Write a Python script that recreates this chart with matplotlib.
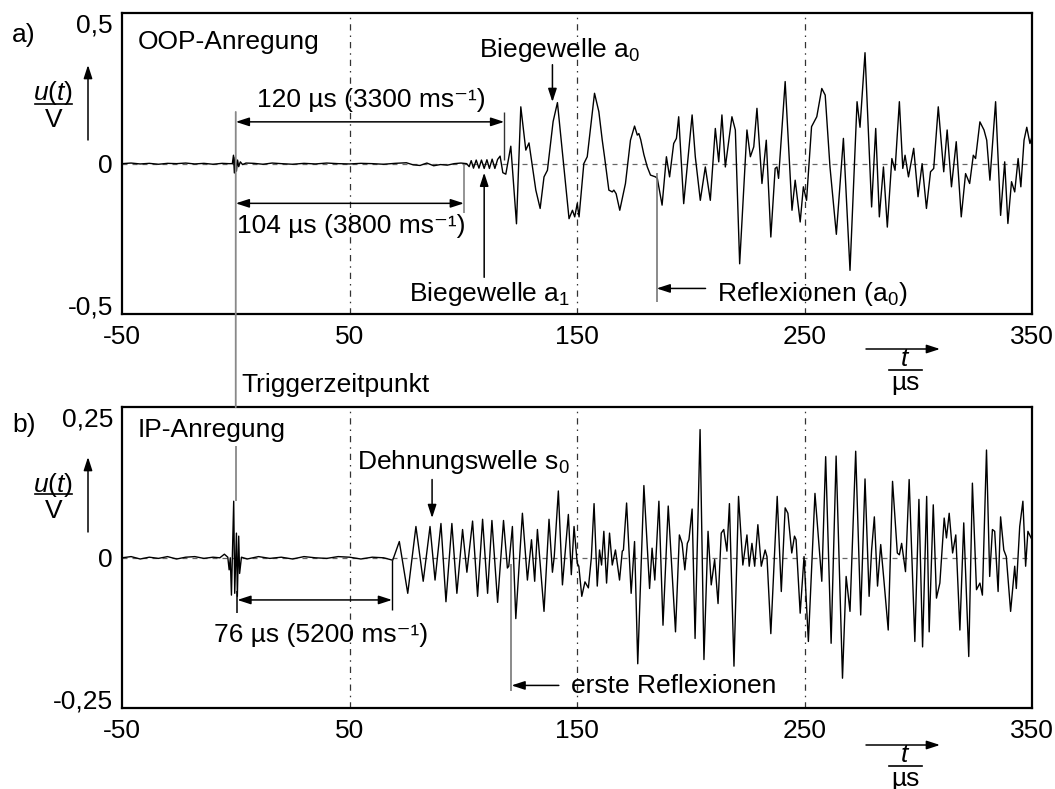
import matplotlib
matplotlib.use("Agg")
import matplotlib.pyplot as plt
from matplotlib.patches import FancyArrowPatch, ConnectionPatch
from matplotlib.lines import Line2D

plt.rcParams["font.family"] = ["Liberation Sans", "DejaVu Sans"]
plt.rcParams["mathtext.fontset"] = "custom"
plt.rcParams["mathtext.rm"] = "Liberation Sans"
plt.rcParams["mathtext.it"] = "Liberation Sans:italic"
plt.rcParams["font.size"] = 19

# ---------------- data ----------------
xticks = [-50, 50, 150, 250, 350]
xtick_labels = ["-50", "50", "150", "250", "350"]
grid_t = [50, 150, 250]

yticks_a = [-0.5, 0.0, 0.5]
ytick_labels_a = ["-0,5", "0", "0,5"]
yticks_b = [-0.25, 0.0, 0.25]
ytick_labels_b = ["-0,25", "0", "0,25"]

# a) OOP excitation: sensor voltage u(t) in V over t in microseconds
t_oop = [-50, -46, -42, -38, -34, -30, -26, -22, -18, -14, -10, -6, -3,
         -1.5, -1.0, -0.6, -0.2, 0.3, 0.8, 1.3, 2.0, 3.0, 4.5,
         8, 12, 16, 20, 25, 30, 35, 40, 45, 50, 55, 60, 65, 70, 75, 78, 81, 84,
         87, 90, 93, 96, 99, 101.5,
         102.6, 103.5, 104.5, 105.7, 106.9, 108.0, 109.2, 110.4, 111.5, 112.7,
         113.9, 115.1, 116.2, 117.4,
         118.7, 120.9, 123.4, 125.3, 127.5, 128.9, 131.9, 133.8, 135.5, 137.0,
         139.5, 141.4, 146.5, 148.0, 149.0, 150.1, 150.9, 153.0, 154.5, 157.7,
         159.6, 161.1, 162.1, 164.0, 165.5, 166.2, 167.2, 168.8, 171.3, 173.5,
         175.3, 176.5, 177.2, 178.0, 179.4, 180.9, 182.3, 184.5, 185.3, 187.4,
         189.3, 190.7, 192.5, 193.7, 194.7, 196.9, 200.6, 202.0, 204.2, 206.4,
         208.6, 210.8, 212.3, 213.7, 215.2, 218.1, 219.6, 221.5, 224.7, 226.2,
         227.7, 229.1, 231.3, 233.2, 235.2, 237.1, 237.9, 238.6, 241.5, 244.5,
         245.9, 248.1, 249.5, 250.9, 253.1, 255.4, 257.6, 259.1, 261.2, 264.0,
         267.1, 270.0, 273.1, 274.4, 276.6, 279.5, 281.3, 282.9, 284.7, 286.4,
         288.4, 289.8, 291.7, 293.2, 294.2, 295.7, 298.0, 299.9, 301.7, 303.6,
         305.4, 306.8, 308.8, 311.2, 312.7, 314.6, 316.7, 318.9, 320.8, 322.6,
         324.2, 325.2, 327.1, 328.9, 330.1, 331.5, 334.0, 336.2, 338.0, 339.4,
         341.0, 342.4, 343.9, 345.1, 346.5, 347.7, 349.1, 350.0]
u_oop = [0.0, 0.002, -0.001, 0.001, -0.002, 0.001, 0.0, 0.002, -0.001, 0.001, -0.002, 0.001, 0.0,
         0.0, 0.028, -0.031, 0.022, -0.025, 0.012, -0.01, 0.006, -0.003, 0.002,
         0.001, -0.002, 0.002, 0.0, -0.002, 0.001, -0.001, 0.002, 0.0, -0.001, 0.001, 0.0, -0.002,
         0.001, 0.003, -0.004, -0.006, 0.002,
         -0.007, -0.003, -0.005, 0.0, 0.002, 0.0,
         -0.01, 0.01, -0.015, 0.012, -0.015, 0.012, -0.016, 0.013, -0.016, 0.015,
         -0.016, 0.014, 0.025, -0.03,
         -0.035, 0.058, -0.2, 0.189, 0.045, 0.069, -0.088, -0.149, -0.044, -0.022,
         0.14, 0.203, -0.183, -0.155, -0.177, -0.133, -0.177, 0.0, 0.023, 0.234,
         0.173, 0.078, 0.023, -0.088, -0.094, -0.088, -0.10, -0.155, -0.066, 0.078,
         0.125, 0.095, 0.10, 0.08, 0.03, -0.011, -0.038, -0.044, -0.049, -0.138,
         0.023, -0.044, 0.067, 0.084, 0.156, -0.133, 0.162, 0.023, -0.122, -0.011,
         -0.122, 0.117, 0.006, 0.162, -0.011, 0.156, 0.112, -0.333, 0.112, 0.023,
         0.056, 0.184, -0.066, 0.078, -0.244, -0.016, -0.011, -0.049, 0.273, -0.155,
         -0.055, -0.194, -0.077, -0.122, 0.123, 0.156, 0.25, 0.228, -0.011, -0.235,
         0.084, -0.355, 0.206, 0.121, 0.369, -0.144, 0.117, -0.177, -0.011, -0.211,
         0.017, -0.022, 0.206, -0.016, 0.028, -0.044, 0.051, -0.11, 0.0, -0.149,
         -0.027, -0.016, 0.189, -0.027, 0.112, -0.077, 0.073, -0.177, -0.033, -0.066,
         0.028, 0.017, 0.139, 0.112, 0.078, -0.055, 0.206, -0.172, 0.006, -0.199,
         -0.06, -0.094, 0.017, -0.077, 0.078, 0.121, 0.067, 0.09]

# b) IP excitation
t_ip = [-50, -46, -42, -38, -34, -30, -26, -22, -18, -14, -10, -7, -5, -3.5,
        -2.9, -2.4, -1.9, -0.9, -0.45, 0.3, 0.7, 1.3, 1.7, 2.5,
        5, 10, 15, 20, 25, 30, 35, 40, 45, 50, 55, 60, 65, 69.0,
        71.9, 75.6, 79.2, 82.4, 85.4, 87.6, 90.2, 92.4, 95.0, 97.2,
        99.7, 101.6, 104.1, 106.3, 108.5, 110.7, 112.6, 115.1, 117.7, 119.4,
        120.0, 121.6, 123.1, 126.0, 128.2, 130.0, 131.4, 132.6, 135.5, 137.7,
        139.2, 140.0, 141.8, 143.6, 146.2, 147.5, 148.7, 150.1, 150.8, 152.1,
        153.5, 155.0, 156.3, 157.5, 158.9, 159.9, 160.8, 161.8, 163.0, 164.3,
        165.5, 166.9, 168.7, 169.9, 170.4, 171.8, 173.8, 175.3, 176.7, 179.4,
        181.9, 183.0, 184.2, 186.0, 187.8, 190.1, 193.3, 195.0, 196.2, 197.4,
        198.5, 199.2, 200.6, 201.9, 204.1, 205.8, 207.6, 209.0, 210.5, 212.0,
        213.4, 214.5, 215.9, 217.0, 219.0, 221.0, 222.9, 224.7, 225.7, 226.9,
        228.1, 229.5, 231.0, 232.7, 233.5, 235.2, 238.0, 239.8, 241.5, 242.7,
        244.4, 245.6, 246.3, 248.1, 249.8, 251.7, 254.6, 257.6, 259.3, 261.7,
        263.9, 266.7, 268.3, 270.0, 272.5, 274.7, 276.6, 278.4, 279.5, 280.7,
        282.1, 283.5, 284.9, 286.8, 288.7, 290.8, 291.7, 292.7, 294.4, 296.0,
        298.5, 300.3, 301.9, 303.7, 304.8, 306.6, 308.0, 309.5, 311.4, 312.4,
        313.6, 315.1, 316.5, 318.3, 320.0, 322.2, 323.8, 325.6, 327.1, 328.2,
        330.0, 331.4, 332.6, 333.6, 335.1, 336.2, 337.6, 338.7, 340.6, 342.4,
        343.1, 344.6, 346.0, 347.2, 348.2, 350.0]
u_ip = [0.0, 0.002, -0.002, 0.001, -0.001, 0.002, -0.002, 0.001, 0.002, -0.001, 0.001, 0.0, 0.006, 0.001,
        -0.02, 0.0, -0.062, 0.094, -0.059, 0.041, -0.064, 0.036, -0.026, 0.001,
        -0.002, 0.002, -0.001, 0.001, -0.002, 0.002, 0.0, -0.001, 0.002, 0.001, -0.002, 0.001, 0.0, -0.004,
        0.027, -0.059, 0.052, -0.039, 0.052, -0.037, 0.057, -0.073, 0.057, -0.059,
        0.047, -0.024, 0.061, -0.064, 0.064, -0.059, 0.062, -0.074, 0.062, -0.017,
        -0.014, 0.052, -0.101, 0.074, -0.037, 0.03, -0.039, 0.047, -0.089, 0.064,
        -0.024, 0.002, 0.111, -0.045, 0.072, -0.028, 0.052, -0.009, -0.014, -0.064,
        -0.04, -0.05, 0.0, 0.09, -0.047, 0.013, -0.012, 0.044, -0.042, 0.041,
        -0.012, 0.013, -0.037, 0.011, 0.013, 0.091, -0.059, 0.027, -0.176, 0.12,
        -0.051, 0.016, -0.037, 0.094, -0.112, 0.086, -0.123, 0.038, 0.024, -0.02,
        0.024, 0.03, 0.081, -0.134, 0.213, -0.169, 0.044, -0.045, -0.003, -0.076,
        0.041, 0.047, 0.011, 0.09, -0.18, 0.102, -0.012, 0.038, -0.014, 0.024,
        -0.014, 0.055, -0.014, 0.013, 0.002, -0.126, 0.102, -0.056, 0.083, 0.074,
        0.008, 0.036, 0.03, -0.092, 0.002, -0.139, 0.107, -0.039, 0.168, -0.142,
        0.169, -0.2, -0.031, -0.089, 0.177, -0.095, 0.131, -0.064, 0.013, 0.068,
        -0.047, 0.022, -0.037, -0.12, 0.127, 0.008, 0.005, 0.024, -0.023, 0.13,
        -0.139, 0.097, -0.148, 0.102, -0.123, 0.088, -0.067, -0.042, 0.066, 0.033,
        0.074, 0.008, 0.038, -0.12, 0.058, -0.164, 0.124, -0.053, -0.042, -0.062,
        0.179, -0.031, 0.047, 0.044, -0.056, 0.068, 0.013, 0.002, -0.089, -0.014,
        -0.051, 0.052, 0.094, -0.014, 0.044, 0.03]

# arrival times read on the time axis (microseconds)
t_trigger = 0.0
t_a1_arrival = 100.3
t_a0_arrival = 118.0
t_s0_arrival = 68.7
t_refl_a0 = 185.0
t_refl_s0 = 121.2
t_a0_marker = 139.2
t_a1_marker = 109.2
t_s0_marker = 86.3

# ---------------- figure ----------------
W, H = 1055, 789
fig = plt.figure(figsize=(W / 100, H / 100), dpi=100)


def fx(x):
    return x / W


def fy(y):
    return 1 - y / H


ax_a = fig.add_axes([fx(122), fy(314), (1032 - 122) / W, 300.7 / H])
ax_b = fig.add_axes([fx(122), fy(708.3), (1032 - 122) / W, 301 / H])

HEAD = "head_length=8,head_width=2.6"


def style_axes(ax, yticks, ylabels, ylim):
    ax.set_xlim(-50, 350)
    ax.set_ylim(*ylim)
    ax.set_xticks(xticks, xtick_labels)
    ax.set_yticks(yticks, ylabels)
    ax.tick_params(length=0, labelsize=19)
    ax.tick_params(axis="x", pad=8)
    ax.tick_params(axis="y", pad=6.5)
    for s in ax.spines.values():
        s.set_linewidth(1.6)
    yl = ax.get_yticklabels()
    yl[0].set_verticalalignment("baseline")
    yl[-1].set_verticalalignment("top")
    for g in grid_t:
        ax.axvline(g, color="#333333", lw=0.9, ls=(0, (5, 4, 1.2, 4)), zorder=1)
    ax.axhline(0, color="#666666", lw=0.9, ls=(0, (4, 4)), zorder=1)


style_axes(ax_a, yticks_a, ytick_labels_a, (-0.5, 0.5))
style_axes(ax_b, yticks_b, ytick_labels_b, (-0.25, 0.25))

ax_a.plot(t_oop, u_oop, color="black", lw=1.0, zorder=3, solid_joinstyle="round")
ax_b.plot(t_ip, u_ip, color="black", lw=1.0, zorder=3, solid_joinstyle="round")


def arrow(ax, p0, p1, style="-|>", lw=1.1, color="black"):
    ax.add_patch(FancyArrowPatch(p0, p1, arrowstyle=f"{style},{HEAD}", mutation_scale=1,
                                 lw=lw, color=color, shrinkA=0, shrinkB=0, zorder=5,
                                 clip_on=False))


def vline(ax, t, u0, u1, color="#777777", lw=1.2):
    ax.plot([t, t], [u0, u1], color=color, lw=lw, zorder=4, clip_on=False,
            solid_capstyle="butt")


# ----- panel a annotations -----
ax_a.text(-43.1, 0.382, "OOP-Anregung", ha="left", va="baseline")
arrow(ax_a, (t_trigger, 0.139), (t_a0_arrival, 0.139), style="<|-|>")
vline(ax_a, t_a0_arrival, 0.173, 0.012, color="#333333", lw=1.0)
ax_a.text(59.6, 0.19, "120 µs (3300 ms⁻¹)", ha="center", va="baseline")

arrow(ax_a, (t_trigger, -0.132), (t_a1_arrival, -0.132), style="<|-|>")
vline(ax_a, t_a1_arrival, 0.0, -0.165, color="#777777", lw=1.1)
ax_a.text(50.7, -0.231, "104 µs (3800 ms⁻¹)", ha="center", va="baseline")

ax_a.text(106.9, 0.356, "Biegewelle a$_0$", ha="left", va="baseline")
arrow(ax_a, (t_a0_marker, 0.329), (t_a0_marker, 0.205))

ax_a.text(76.0, -0.458, "Biegewelle a$_1$", ha="left", va="baseline")
arrow(ax_a, (t_a1_marker, -0.378), (t_a1_marker, -0.03))

vline(ax_a, t_refl_a0, -0.03, -0.46)
arrow(ax_a, (206.5, -0.415), (t_refl_a0, -0.415))
ax_a.text(211.6, -0.458, "Reflexionen (a$_0$)", ha="left", va="baseline")

# ----- panel b annotations -----
ax_b.text(-43.1, 0.201, "IP-Anregung", ha="left", va="baseline")
ax_b.text(53.1, 0.148, "Dehnungswelle s$_0$", ha="left", va="baseline")
arrow(ax_b, (t_s0_marker, 0.13), (t_s0_marker, 0.066))

arrow(ax_b, (0.7, -0.07), (t_s0_arrival, -0.07), style="<|-|>")
vline(ax_b, 0.7, -0.055, -0.092, color="black", lw=1.1)
vline(ax_b, t_s0_arrival, -0.004, -0.087, color="black", lw=1.0)
ax_b.text(37.5, -0.14, "76 µs (5200 ms⁻¹)", ha="center", va="baseline")

vline(ax_b, t_refl_s0, -0.01, -0.222)
arrow(ax_b, (142.0, -0.212), (t_refl_s0, -0.212))
ax_b.text(147.2, -0.224, "erste Reflexionen", ha="left", va="baseline")

# trigger instant: grey line running from panel a into panel b
vline(ax_b, t_trigger, 0.185, 0.095, color="#888888", lw=1.3)
con = ConnectionPatch(xyA=(t_trigger, 0.172), coordsA=ax_a.transData,
                      xyB=(t_trigger, 0.25), coordsB=ax_b.transData,
                      color="#888888", lw=1.3, zorder=4)
fig.add_artist(con)
fig.text(fx(241), fy(392), "Triggerzeitpunkt", ha="left", va="baseline")

# ----- panel letters and axis quantity labels -----
fig.text(fx(12), fy(42), "a)", ha="left", va="baseline")
fig.text(fx(12), fy(432), "b)", ha="left", va="baseline")

for (yu, ybar, yv, ya0, ya1) in [(100, 103.5, 127, 140, 65), (492, 494, 518, 532, 457)]:
    fig.text(fx(53.5), fy(yu), "$u$($t$)", ha="center", va="baseline")
    fig.add_artist(Line2D([fx(35), fx(72)], [fy(ybar), fy(ybar)], color="black", lw=1.2))
    fig.text(fx(53.5), fy(yv), "V", ha="center", va="baseline")
    fig.add_artist(FancyArrowPatch((fx(88), fy(ya0)), (fx(88), fy(ya1)),
                                   transform=fig.transFigure, arrowstyle=f"-|>,{HEAD}",
                                   mutation_scale=1, lw=1.1, color="black",
                                   shrinkA=0, shrinkB=0))

for (yarr, yt, ybar, ymu) in [(349, 366, 370, 390), (745, 762, 766, 786)]:
    fig.add_artist(FancyArrowPatch((fx(866), fy(yarr)), (fx(940), fy(yarr)),
                                   transform=fig.transFigure, arrowstyle=f"-|>,{HEAD}",
                                   mutation_scale=1, lw=1.1, color="black",
                                   shrinkA=0, shrinkB=0))
    fig.text(fx(905), fy(yt), "$t$", ha="center", va="baseline")
    fig.add_artist(Line2D([fx(889), fx(922)], [fy(ybar), fy(ybar)], color="black", lw=1.2))
    fig.text(fx(905), fy(ymu), "µs", ha="center", va="baseline")

fig.savefig("out.png", dpi=100)
